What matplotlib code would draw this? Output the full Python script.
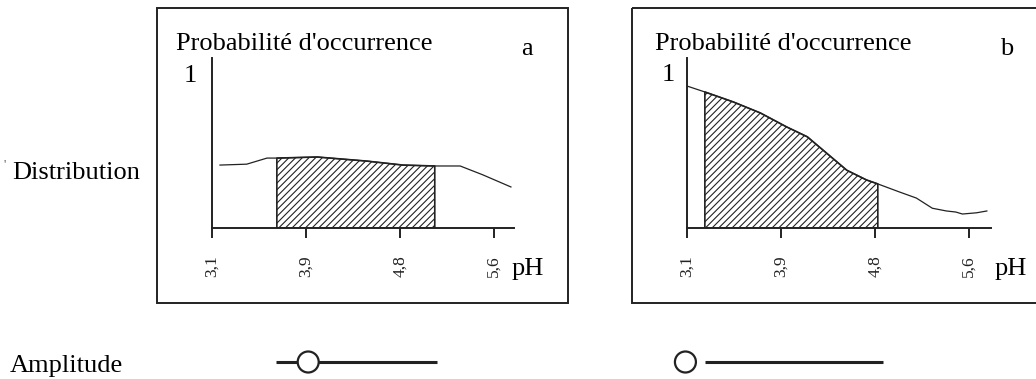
import numpy as np
import matplotlib
matplotlib.use("Agg")
import matplotlib.pyplot as plt
from matplotlib.patches import Rectangle, Circle

plt.rcParams['font.family'] = ['Liberation Serif', 'DejaVu Serif']
plt.rcParams['hatch.linewidth'] = 0.8

W, H = 1036, 379

# tick labels (equally spaced on the printed axis)
ph_labels = ["3,1", "3,9", "4,8", "5,6"]
ph_ticks = [0, 1, 2, 3]

# panel a : position along pH axis (tick units) and probability
pos_a = [0.085, 0.37, 0.585, 0.69, 1.12, 1.65, 2.03, 2.37, 2.64, 2.88, 3.18]
occ_a = [0.414, 0.42, 0.46, 0.46, 0.467, 0.44, 0.414, 0.408, 0.408, 0.35, 0.27]
hatch_a = (0.69, 2.37)

# panel b
pos_b = [0.0, 0.19, 0.49, 0.78, 1.06, 1.28, 1.49, 1.70, 1.91, 2.03, 2.26, 2.44,
         2.61, 2.76, 2.86, 2.93, 3.08, 3.19]
occ_b = [0.934, 0.895, 0.83, 0.757, 0.665, 0.60, 0.49, 0.38, 0.316, 0.29, 0.237,
         0.197, 0.13, 0.112, 0.105, 0.092, 0.10, 0.112]
hatch_b = (0.19, 2.03)

# amplitude sliders: knob position along the bar (fraction)
knob = [0.2, -0.11]

fig = plt.figure(figsize=(W / 100, H / 100), dpi=100)

# overlay in pixel coordinates for frames / labels
ov = fig.add_axes([0, 0, 1, 1])
ov.set_xlim(0, W)
ov.set_ylim(H, 0)
ov.axis('off')

big = 19
for x0, x1 in [(157, 568), (632, 1045)]:
    ov.add_patch(Rectangle((x0, 8), x1 - x0, 295, fill=False, lw=1.4, ec='#222222'))

ov.text(176, 50, "Probabilité d'occurrence", fontsize=big, va='baseline')
ov.text(655, 50, "Probabilité d'occurrence", fontsize=big, va='baseline')
ov.text(527, 55, "a", fontsize=big, va='baseline', ha='center')
ov.text(1007, 55, "b", fontsize=big, va='baseline', ha='center')
ov.text(190, 82, "1", fontsize=big, va='baseline', ha='center')
ov.text(668, 81, "1", fontsize=big, va='baseline', ha='center')
ov.text(512, 275, "pH", fontsize=big, va='baseline')
ov.text(995, 275, "pH", fontsize=big, va='baseline')
ov.text(3, 168, "'", fontsize=9, va='baseline', color='#555555')
ov.text(12, 179, "Distribution", fontsize=big, va='baseline')
ov.text(10, 372, "Amplitude", fontsize=big, va='baseline')

for (x0, x1), k in zip([(276, 437), (705, 883)], knob):
    ov.plot([x0, x1], [362, 362], color='#222222', lw=2.2, solid_capstyle='butt')
    cx = x0 + k * (x1 - x0)
    ov.add_patch(Circle((cx, 362), 10.5, fc='white', ec='#222222', lw=1.6, zorder=5))


def panel(left, right, pos, occ, hr):
    y0, y1 = 228, 58
    ax = fig.add_axes([left / W, (H - y0) / H, (right - left) / W, (y0 - y1) / H])
    ax.set_xlim(0, (right - left) / 94)
    ax.set_ylim(0, (y0 - y1) / 152)
    ax.patch.set_alpha(0)
    for s in ['top', 'right']:
        ax.spines[s].set_visible(False)
    for s in ['left', 'bottom']:
        ax.spines[s].set_linewidth(1.4)
        ax.spines[s].set_color('#222222')
    ax.set_yticks([])
    ax.set_xticks(ph_ticks)
    ax.set_xticklabels(ph_labels, rotation=90, fontsize=12.5)
    ax.tick_params(axis='x', direction='out', length=7.5, width=1.4, pad=12, colors='#222222')
    ax.plot(pos, occ, color='#222222', lw=0.9)
    p = np.array(pos)
    o = np.array(occ)
    m = (p >= hr[0]) & (p <= hr[1])
    ax.fill_between(p[m], 0, o[m], facecolor='white', edgecolor='#222222',
                    hatch='/////', lw=1.2)
    return ax


panel(212, 514, pos_a, occ_a, hatch_a)
panel(687, 991, pos_b, occ_b, hatch_b)

fig.savefig("out.png", dpi=100)
